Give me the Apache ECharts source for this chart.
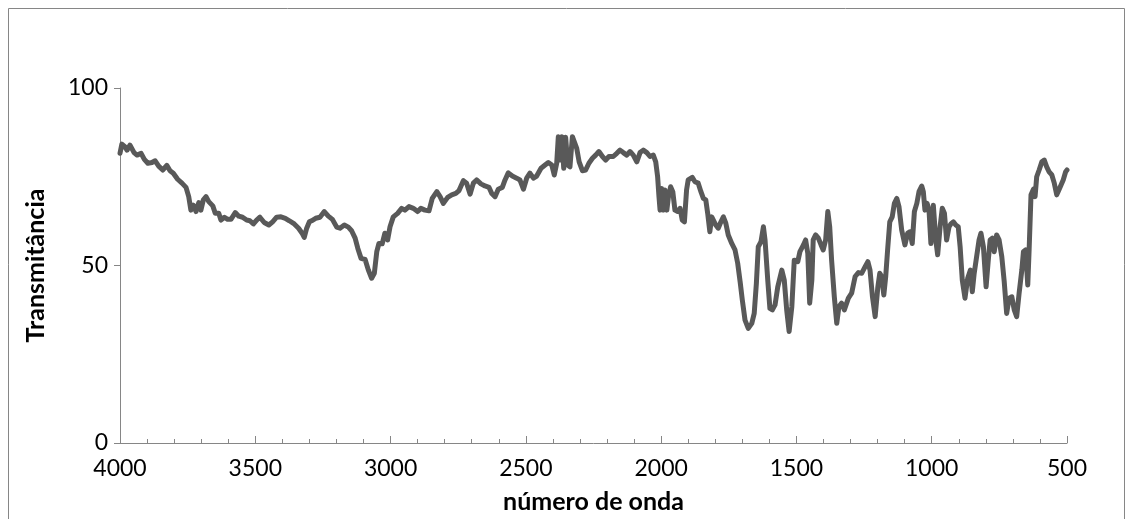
<!DOCTYPE html>
<html>
<head>
<meta charset="utf-8">
<script src="https://cdn.jsdelivr.net/npm/echarts@6/dist/echarts.min.js"></script>
<style>
html,body{margin:0;padding:0;background:#fff;}
#chart{width:1132px;height:519px;}
</style>
</head>
<body>
<div id="chart"></div>
<script>
// Wavenumbers (cm-1) and transmittance values
const wavenumbers = [
4000,3993,3982,3974,3963,3956,3948,3937,3922,3910,3897,3882,3870,3857,3842,3827,3815,3803,3787,3771,3756,3746,3738,3729,3719,3709,3701,3692,3682,3672,3657,3648,3635,3627,3614,3602,3590,3574,3561,3547,3532,3520,3507,3495,3483,3467,3450,3436,3421,3405,3389,3374,3356,3340,3327,3319,3310,3300,
3292,3277,3261,3245,3230,3215,3199,3187,3171,3156,3144,3131,3121,3109,3094,3082,3070,3060,3051,3043,3031,3021,3011,3002,2990,2974,2959,2947,2932,2916,2900,2888,2873,2858,2846,2829,2817,2805,2789,2774,2759,2747,2731,2719,2706,2694,2682,2666,2651,2636,2626,2614,2602,
2587,2577,2565,2550,2534,2522,2509,2497,2485,2472,2460,2444,2429,2417,2404,2395,2386,2380,2373,2367,2360,2353,2345,2337,2328,2321,2312,2303,2291,2279,2267,2254,2242,2230,2217,2205,2193,2177,2164,2152,2140,2127,2115,2103,2090,2078,2066,2053,2041,2029,2020,2013,2008,2004,1998,1992,1986,1979,1973,1965,1957,1949,1939,1930,1922,1914,1906,1900,
1893,1885,1875,1863,1853,1844,1835,1828,1820,1813,1806,1798,1789,1779,1770,1761,1752,1739,1727,1717,1708,1700,1690,1678,1665,1656,1648,1641,1631,1622,1616,1606,1598,1589,1579,1569,1554,1545,1536,1527,1517,1508,1495,1487,1474,1466,1458,1451,1443,1438,1429,1419,1409,1401,1392,1384,1377,1370,1360,1351,1343,1333,1323,1308,1296,1283,1271,1259,1246,1236,1228,1219,1209,1199,
1192,1185,1177,1170,1163,1155,1146,1138,1129,1121,1111,1099,1089,1080,1072,1064,1055,1047,1037,1031,1025,1017,1010,1003,994,985,978,969,961,953,945,936,929,920,911,902,895,887,877,867,857,850,843,834,825,818,809,799,791,784,776,769,760,751,741,732,723,714,704,695,686,677,667,661,653,645,640,633,624,618,612,603,593,584,575,566,556,547,538,530,522,514,505,500
];
const transmittance = [
81.6,84.2,83.5,82.5,83.9,84.4,81.8,81.1,81.6,79.9,78.8,79.0,79.5,78.0,76.9,78.2,76.7,76.0,74.3,73.2,72.0,69.4,65.6,67.0,65.2,67.7,65.6,68.5,69.4,68.0,66.8,64.7,64.7,62.8,63.6,63.0,63.0,64.9,63.9,63.6,62.8,62.6,61.7,62.8,63.6,62.1,61.4,62.3,63.6,63.7,63.3,62.6,61.7,60.5,59.1,57.9,60.5,62.3,
62.6,63.3,63.6,65.2,63.9,63.0,60.8,60.5,61.4,60.8,59.8,57.7,54.8,52.0,51.7,48.7,46.4,47.8,53.9,56.2,56.1,59.1,57.2,60.9,63.7,64.7,66.1,65.6,66.6,66.1,65.2,66.1,65.6,65.4,68.9,70.8,69.4,67.5,69.2,69.9,70.3,71.1,73.9,73.2,70.1,73.2,74.1,73.0,72.4,72.0,70.3,69.4,71.5,
72.0,74.1,76.1,75.2,74.6,74.1,71.5,74.6,76.0,74.6,75.2,77.4,78.3,79.0,78.3,75.5,78.8,86.3,79.7,86.3,77.4,86.1,78.3,77.8,86.3,85.8,83.0,79.2,76.7,76.9,78.8,80.2,81.1,82.1,80.7,79.7,80.7,80.7,81.6,82.5,81.8,81.1,82.1,81.1,79.2,81.8,82.5,81.8,80.7,81.1,79.2,75.0,69.4,65.6,71.7,65.6,71.3,65.6,69.4,72.2,70.8,65.6,65.2,66.1,62.8,62.3,71.3,74.1,
74.1,74.8,73.6,73.2,70.8,68.9,68.5,64.7,59.5,63.7,64.2,61.4,60.5,62.3,63.7,61.9,58.6,56.2,54.4,50.6,45.4,40.3,34.6,32.3,33.7,36.5,45.0,55.3,56.7,60.9,57.2,45.9,37.9,37.5,38.9,44.0,48.7,45.9,37.5,31.4,38.4,51.5,51.1,53.9,55.8,57.2,53.4,39.4,45.9,57.2,58.6,57.7,55.8,54.4,57.2,65.2,60.9,51.5,41.2,33.7,38.4,39.4,37.5,40.8,42.2,46.9,48.0,47.8,49.7,51.1,48.7,41.2,35.6,44.0,
47.8,46.9,41.7,46.9,54.4,62.3,63.7,67.5,68.9,66.6,60.0,55.8,59.1,59.5,56.2,65.2,67.5,70.8,72.4,70.8,65.6,67.5,65.6,56.2,67.0,57.2,53.0,60.9,66.1,64.7,57.2,60.9,61.7,62.3,61.4,60.9,55.3,45.9,40.8,46.4,48.7,42.6,47.8,52.5,57.2,59.1,55.3,44.0,51.5,57.2,57.7,53.9,58.6,57.2,52.5,45.4,36.5,40.8,41.2,37.5,35.6,42.2,48.7,53.9,54.4,44.5,54.4,69.9,71.5,69.4,75.0,76.9,79.2,79.7,77.8,76.4,75.5,73.2,69.9,71.3,72.7,74.1,76.4,76.9
];
const xTicks = [500, 1000, 1500, 2000, 2500, 3000, 3500, 4000];
const yTicks = [0, 50, 100];
const xTitle = 'número de onda';
const yTitle = 'Transmitância';

const seriesData = wavenumbers.map((w, i) => [w, transmittance[i]]);
const FONT = "Lato, 'Open Sans', sans-serif";
const axisGray = '#868686';

const chart = echarts.init(document.getElementById('chart'), null, {renderer: 'canvas'});
chart.setOption({
  animation: false,
  backgroundColor: '#ffffff',
  grid: {left: 120, right: 65, top: 88, bottom: 76, containLabel: false},
  xAxis: {
    type: 'value',
    inverse: true,
    min: xTicks[0],
    max: xTicks[xTicks.length - 1],
    interval: 500,
    name: xTitle,
    nameLocation: 'middle',
    nameGap: 46,
    nameTextStyle: {color: '#000', fontFamily: FONT, fontSize: 25, fontWeight: 'bold'},
    axisLine: {show: true, lineStyle: {color: axisGray, width: 1}},
    axisTick: {show: true, inside: true, length: 7, lineStyle: {color: axisGray}},
    minorTick: {show: true, splitNumber: 5, length: 4, lineStyle: {color: axisGray}},
    splitLine: {show: false},
    axisLabel: {color: '#000', fontFamily: FONT, fontSize: 23, margin: 14, formatter: v => String(v)}
  },
  yAxis: {
    type: 'value',
    min: yTicks[0],
    max: yTicks[yTicks.length - 1],
    interval: 50,
    name: yTitle,
    nameLocation: 'middle',
    nameGap: 72,
    nameTextStyle: {color: '#000', fontFamily: FONT, fontSize: 25, fontWeight: 'bold'},
    axisLine: {show: true, lineStyle: {color: axisGray, width: 1}},
    axisTick: {show: true, inside: false, length: 6, lineStyle: {color: axisGray}},
    splitLine: {show: false},
    axisLabel: {color: '#000', fontFamily: FONT, fontSize: 23, margin: 12, formatter: v => String(v)}
  },
  graphic: [
    {type: 'rect', shape: {x: 8.5, y: 8.5, width: 1116, height: 540}, style: {fill: 'none', stroke: axisGray, lineWidth: 1}, silent: true}
  ],
  series: [{
    type: 'line',
    data: seriesData,
    showSymbol: false,
    symbol: 'none',
    lineStyle: {color: '#595959', width: 5, join: 'round', cap: 'round'},
    clip: false
  }]
});
</script>
</body>
</html>
